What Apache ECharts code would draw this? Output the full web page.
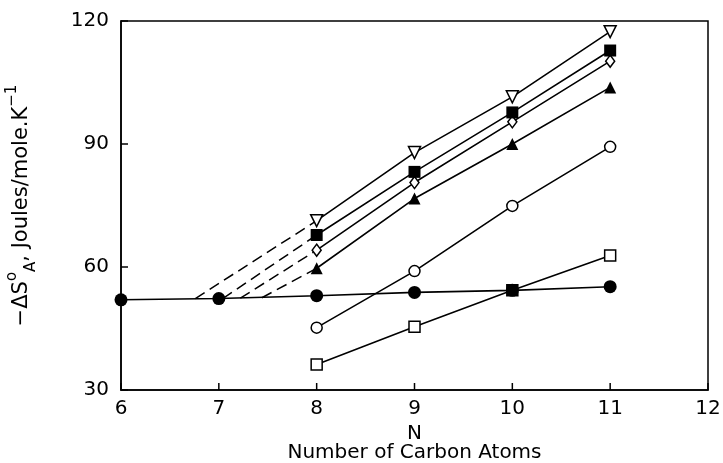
<!DOCTYPE html>
<html>
<head>
<meta charset="utf-8">
<script src="https://cdn.jsdelivr.net/npm/echarts@6/dist/echarts.min.js"></script>
<style>
  html, body { margin: 0; padding: 0; background: #fff; }
  #chart { width: 723px; height: 463px; }
</style>
</head>
<body>
<div id="chart"></div>
<script>
// ==============================================================
// Entropy vs number of carbon atoms
// ==============================================================
var nAll = [6, 7, 8, 9, 10, 11];
var nHigh = [8, 9, 10, 11];

// series values
var filledCircle = [52.0, 52.3, 53.0, 53.8, 54.3, 55.2];
var openSquare = [36.2, 45.4, 54.3, 62.8];
var openCircle = [45.2, 59.0, 74.9, 89.3];
var filledTriangle = [59.7, 76.7, 90.0, 103.8];
var openDiamond = [64.1, 80.6, 95.4, 110.2];
var filledSquare = [67.8, 83.2, 97.7, 112.8];
var openTriangle = [71.3, 87.9, 101.5, 117.4];

// dashed extrapolation: where each line meets the baseline
var dashStartN = [6.76, 7.04, 7.22, 7.44];
var dashStartY = [52.3, 52.3, 52.4, 52.5];

var xTicks = [6, 7, 8, 9, 10, 11, 12];
var yTicks = [30, 60, 90, 120];

function pairs(xs, ys) {
  return xs.map(function (x, i) { return [x, ys[i]]; });
}

var black = '#000';
var font = 'DejaVu Sans';
var tickLen = 7;

function solid(name, data, symbol, size, filled, extra) {
  var s = {
    name: name,
    type: 'line',
    data: data,
    symbol: symbol,
    symbolSize: size,
    lineStyle: { color: black, width: 1.6 },
    itemStyle: {
      color: filled ? black : '#fff',
      borderColor: black,
      borderWidth: filled ? 0 : 1.5
    },
    z: 3
  };
  if (extra) for (var k in extra) s[k] = extra[k];
  return s;
}

var dashedTargets = [openTriangle, filledSquare, openDiamond, filledTriangle];
var dashSeries = dashedTargets.map(function (vals, i) {
  return {
    type: 'line',
    data: [[dashStartN[i], dashStartY[i]], [nHigh[0], vals[0]]],
    symbol: 'none',
    lineStyle: { color: black, width: 1.5, type: [11, 6] },
    z: 2
  };
});

// the open square at N=10 sits under the filled circle, so it prints solid
var squareData = pairs(nHigh, openSquare).map(function (p, i) {
  if (nHigh[i] === 10) return { value: p, itemStyle: { color: black } };
  return p;
});

var chart = echarts.init(document.getElementById('chart'));
var option = {
  animation: false,
  backgroundColor: '#fff',
  grid: {
    left: 121, right: 15, top: 21, bottom: 73,
    outerBoundsMode: 'none',
    show: true, borderColor: black, borderWidth: 1.5
  },
  xAxis: {
    type: 'value',
    min: xTicks[0], max: xTicks[xTicks.length - 1], interval: 1,
    name: 'N\nNumber of Carbon Atoms',
    nameLocation: 'middle',
    nameGap: 32,
    nameTextStyle: {
      color: black, fontFamily: font, fontSize: 20, lineHeight: 19,
      verticalAlign: 'top'
    },
    axisLine: { show: true, onZero: false, lineStyle: { color: black, width: 1.5 } },
    axisTick: { show: false },
    axisLabel: { color: black, fontFamily: font, fontSize: 20, margin: 9 },
    splitLine: { show: false }
  },
  yAxis: {
    type: 'value',
    min: yTicks[0], max: yTicks[yTicks.length - 1], interval: 30,
    name: '−ΔS{sup|o}{sub|A}, Joules/mole.K{sup|−1}',
    nameLocation: 'middle',
    nameGap: 82,
    nameTextStyle: {
      color: black, fontFamily: font, fontSize: 21,
      rich: {
        sup: { fontFamily: font, fontSize: 15, verticalAlign: 'top', lineHeight: 34, color: black },
        sub: { fontFamily: font, fontSize: 15, verticalAlign: 'bottom', lineHeight: 34, color: black }
      }
    },
    axisLine: { show: true, onZero: false, lineStyle: { color: black, width: 1.5 } },
    axisTick: { show: false },
    axisLabel: { color: black, fontFamily: font, fontSize: 20, margin: 12 },
    splitLine: { show: false }
  },
  series: dashSeries.concat([
    solid('filled circle', pairs(nAll, filledCircle), 'circle', 13, true, { z: 4 }),
    solid('open square', squareData, 'rect', 11, false),
    solid('open circle', pairs(nHigh, openCircle), 'circle', 11, false),
    solid('filled triangle', pairs(nHigh, filledTriangle), 'triangle', 12, true),
    solid('open diamond', pairs(nHigh, openDiamond), 'diamond', [9, 12], false),
    solid('filled square', pairs(nHigh, filledSquare), 'rect', 12, true),
    solid('open triangle', pairs(nHigh, openTriangle), 'triangle', 12, false, { symbolRotate: 180 })
  ])
};
chart.setOption(option);

// inward tick marks, placed through the axes' own scales
var yMin = yTicks[0], xMin = xTicks[0];
var tickEls = [];
xTicks.forEach(function (t) {
  var p = chart.convertToPixel({ gridIndex: 0 }, [t, yMin]);
  tickEls.push({
    type: 'line', silent: true, z: 5,
    shape: { x1: p[0], y1: p[1], x2: p[0], y2: p[1] - tickLen },
    style: { stroke: black, lineWidth: 1.5 }
  });
});
yTicks.forEach(function (t) {
  var p = chart.convertToPixel({ gridIndex: 0 }, [xMin, t]);
  tickEls.push({
    type: 'line', silent: true, z: 5,
    shape: { x1: p[0], y1: p[1], x2: p[0] + tickLen, y2: p[1] },
    style: { stroke: black, lineWidth: 1.5 }
  });
});
chart.setOption({ graphic: tickEls });
</script>
</body>
</html>
